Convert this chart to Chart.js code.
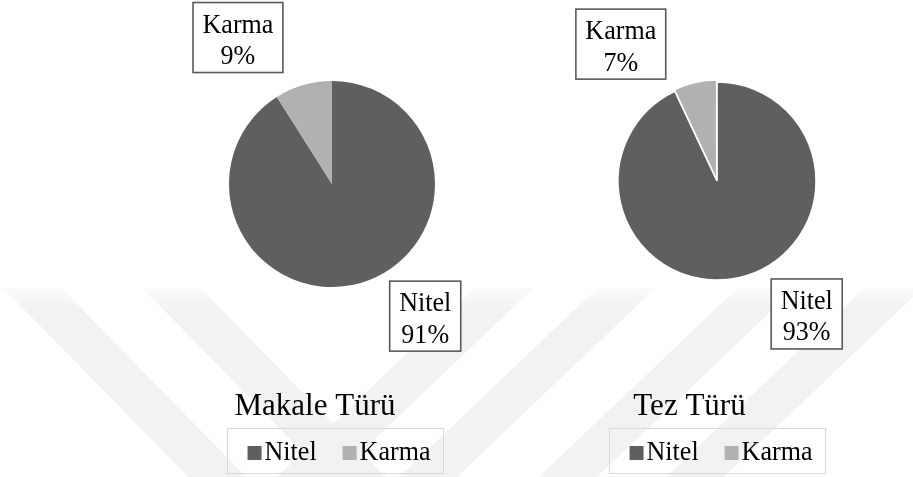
<!DOCTYPE html>
<html>
<head>
<meta charset="utf-8">
<script src="https://cdn.jsdelivr.net/npm/chart.js@4.4.1/dist/chart.umd.min.js"></script>
<style>
  html, body { margin: 0; padding: 0; background: #fff; }
  #wrap { position: relative; width: 913px; height: 477px; overflow: hidden; }
  canvas { position: absolute; top: 0; }
</style>
</head>
<body>
<div id="wrap">
  <canvas id="bg" width="913" height="477" style="left:0"></canvas>
  <canvas id="makaleChart" width="304" height="477" style="left:180px"></canvas>
  <canvas id="tezChart" width="304" height="477" style="left:565px"></canvas>
</div>
<script>
// data
const categories = ['Nitel', 'Karma'];
const makaleValues = [91, 9];
const tezValues = [93, 7];
const chartTitles = ['Makale Türü', 'Tez Türü'];
const sliceColors = ['#5f5f5f', '#b1b1b1'];

const FONT = "'Liberation Serif'";
const SX = 0.93; // text in the source is a bit narrow

// faint watermark behind the charts
function drawWatermark() {
  const ctx = document.getElementById('bg').getContext('2d');
  const bands = [[41, 0.98], [180, 0.98], [495, -1.05], [617, -1.05], [757, -1.05], [884, -1.05]];
  const grad = ctx.createLinearGradient(0, 286, 0, 310);
  grad.addColorStop(0, '#fbfbfb');
  grad.addColorStop(1, '#f2f2f2');
  ctx.fillStyle = grad;
  bands.forEach(([x, s]) => {
    const top = x + s * (288 - 297), bot = x + s * (477 - 297);
    ctx.beginPath();
    ctx.moveTo(top - 29, 288);
    ctx.lineTo(top + 29, 288);
    ctx.lineTo(bot + 29, 477);
    ctx.lineTo(bot - 29, 477);
    ctx.closePath();
    ctx.fill();
  });
}

function narrowText(ctx, t, x, y) {
  ctx.save();
  ctx.translate(x, y);
  ctx.scale(SX, 1);
  ctx.fillText(t, 0, 0);
  ctx.restore();
}

// boxed data labels, title and boxed legend under the pie
const boxLabels = {
  id: 'boxLabels',
  afterDraw(chart, args, opts) {
    const ctx = chart.ctx;
    const meta = chart.getDatasetMeta(0);
    const ds = chart.data.datasets[0];
    ctx.save();
    ctx.font = '28px ' + FONT;
    ctx.textAlign = 'center';
    ctx.textBaseline = 'alphabetic';
    meta.data.forEach((arc, i) => {
      const p = arc.getProps(['x', 'y', 'startAngle', 'endAngle', 'outerRadius'], true);
      const ang = (p.startAngle + p.endAngle) / 2 + opts.shift[i] * Math.PI / 180;
      const cx = p.x + Math.cos(ang) * p.outerRadius * opts.dist[i];
      const cy = p.y + Math.sin(ang) * p.outerRadius * opts.dist[i];
      const l1 = chart.data.labels[i];
      const l2 = ds.data[i] + '%';
      const w = Math.max(ctx.measureText(l1).width, ctx.measureText(l2).width) * SX + 19;
      const h = 70;
      const x0 = cx - w / 2, y0 = cy - h / 2;
      ctx.fillStyle = '#fff';
      ctx.fillRect(x0, y0, w, h);
      ctx.strokeStyle = '#595959';
      ctx.lineWidth = 1.6;
      ctx.strokeRect(x0, y0, w, h);
      ctx.fillStyle = '#000';
      narrowText(ctx, l1, cx, y0 + 30);
      narrowText(ctx, l2, cx, y0 + 61.5);
    });

    const pieX = meta.data[0].x;
    // title
    ctx.font = '31px ' + FONT;
    ctx.fillStyle = '#000';
    ctx.fillText(opts.title, pieX + opts.titleDx, 415);

    // legend
    ctx.font = '28px ' + FONT;
    const sq = 14, gap = 3, itemGap = 26;
    const widths = chart.data.labels.map(t => sq + gap + ctx.measureText(t).width * SX);
    const total = widths.reduce((a, b) => a + b, 0) + itemGap * (widths.length - 1);
    const boxW = 216;
    const bx = pieX + opts.legendDx - boxW / 2;
    ctx.strokeStyle = '#d9d9d9';
    ctx.lineWidth = 1;
    ctx.strokeRect(Math.round(bx) + 0.5, 428.5, boxW, 45);
    let x = pieX + opts.legendDx + 4 - total / 2;
    ctx.textAlign = 'left';
    chart.data.labels.forEach((t, i) => {
      ctx.fillStyle = ds.backgroundColor[i];
      ctx.fillRect(x, 446, sq, sq);
      ctx.fillStyle = '#000';
      narrowText(ctx, t, x + sq + gap, 459.5);
      x += widths[i] + itemGap;
    });
    ctx.restore();
  }
};

function makePie(id, values, radius, offsets, pad, labelOpts) {
  return new Chart(document.getElementById(id), {
    type: 'pie',
    data: {
      labels: categories,
      datasets: [{
        data: values,
        backgroundColor: sliceColors,
        borderColor: '#fff',
        borderWidth: offsets.some(o => o > 0) ? 1.5 : 0,
        offset: offsets,
        radius: radius
      }]
    },
    options: {
      responsive: false,
      animation: false,
      layout: { padding: pad },
      plugins: {
        legend: { display: false },
        tooltip: { enabled: false },
        boxLabels: labelOpts
      }
    },
    plugins: [boxLabels]
  });
}

drawWatermark();
makePie('makaleChart', makaleValues, 103, [0, 0],
  { top: 81, bottom: 190, left: 0, right: 0 },
  { shift: [-19, -16.5], dist: [1.57, 1.69], title: chartTitles[0], titleDx: -17, legendDx: 3 });
makePie('tezChart', tezValues, 99, [0, 5],
  { top: 82, bottom: 197, left: 0, right: 0 },
  { shift: [-21.4, -22.5], dist: [1.62, 1.69], title: chartTitles[1], titleDx: -27.5, legendDx: 0 });
</script>
</body>
</html>
